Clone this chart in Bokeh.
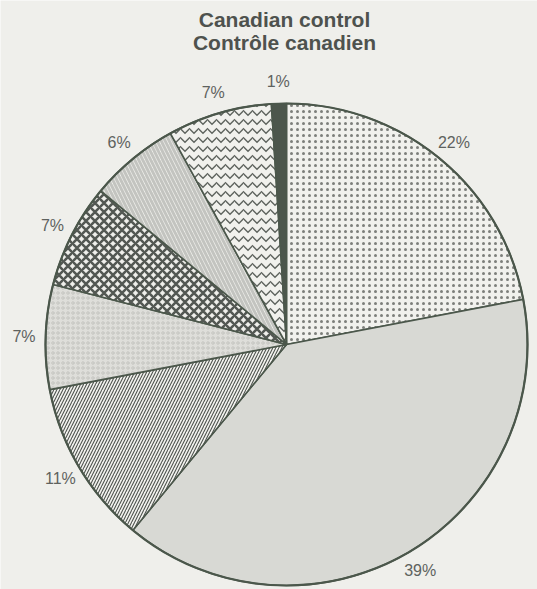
import math
from bokeh.plotting import figure
from bokeh.models import Range1d, ColumnDataSource, Label
from bokeh.core.properties import value
from bokeh.embed import file_html
from bokeh.resources import INLINE

# ---- data (clockwise from 12 o'clock) ----
shares = [22, 39, 11, 7, 7, 6, 7, 1]
labels = ["22%", "39%", "11%", "7%", "7%", "6%", "7%", "1%"]
title_lines = ["Canadian control", "Contrôle canadien"]

# ---- styles ----
fills = ["#f1f1ed", "#d8d9d4", "#f3f3ef", "#dededa", "#efefeb", "#f3f3ef", "#f1f1ed", "#4c564c"]
hatches = ["dot", " ", "right_diagonal_line", "ring", "diagonal_cross",
           "left_diagonal_line", "horizontal_wave", " "]
hatch_colors = ["#7d7f7b", "#d8d9d4", "#4f544f", "#c2c3bf", "#535853",
                "#c3c4c0", "#5d625d", "#4c564c"]
hatch_scales = [6, 6, 6, 5, 9, 8, 9, 6]
hatch_weights = [1.6, 1, 1.1, 1, 2.6, 3.0, 1.3, 1]

W, H = 537, 589
cx, cy, R = 286, H - 344, 241
BG = "#efefeb"

p = figure(width=W, height=H, output_backend="svg", toolbar_location=None,
           x_range=Range1d(0, W), y_range=Range1d(0, H), min_border=0)
p.axis.visible = False
p.grid.visible = False
p.outline_line_color = None
p.background_fill_color = BG
p.border_fill_color = BG

total = float(sum(shares))
starts, ends, lx, ly = [], [], [], []
cum = 0.0
for s in shares:
    t0 = cum / total * 2 * math.pi
    t1 = (cum + s) / total * 2 * math.pi
    starts.append(math.pi / 2 - t1)
    ends.append(math.pi / 2 - t0)
    tm = (t0 + t1) / 2
    lr = R * 1.09
    lx.append(cx + lr * math.sin(tm))
    ly.append(cy + lr * math.cos(tm))
    cum += s

src = ColumnDataSource(dict(start=starts, end=ends, fill=fills, hatch=hatches,
                            hcol=hatch_colors, hscale=hatch_scales, hw=hatch_weights,
                            x=[cx] * len(shares), y=[cy] * len(shares)))
p.wedge(x="x", y="y", radius=R, start_angle="start", end_angle="end", source=src,
        fill_color="fill", hatch_pattern="hatch", hatch_color="hcol",
        hatch_scale="hscale", hatch_weight="hw",
        line_color="#4b574b", line_width=1.6)
p.circle(x=[cx], y=[cy], radius=R, fill_color=None, line_color="#4b574b", line_width=2.2)

lsrc = ColumnDataSource(dict(x=lx, y=ly, t=labels))
p.text(x="x", y="y", text="t", source=lsrc, text_align="center", text_baseline="middle",
       text_font=value("Liberation Sans"), text_font_size="16px", text_color="#5e625e")

for i, line in enumerate(title_lines):
    p.add_layout(Label(x=cx - 2, y=H - 7 - i * 23, text=line, text_align="center",
                       text_baseline="top", text_font="Liberation Sans",
                       text_font_style="bold", text_font_size="21px",
                       text_color="#4e524e"))

open("out.html", "w").write(file_html(p, INLINE))
